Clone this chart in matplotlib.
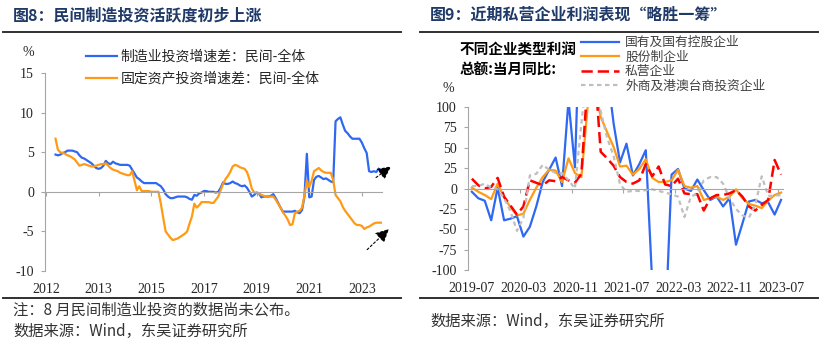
import matplotlib
matplotlib.use('Agg')
import matplotlib.pyplot as plt
from matplotlib.lines import Line2D

plt.rcParams['font.family'] = ['Noto Sans CJK SC', 'DejaVu Sans']
plt.rcParams['axes.unicode_minus'] = False

# ---- 图8 data (monthly, index 0 = first "2012" tick) ----
left_start = 4
mfg_diff = [4.7, 4.6, 4.7, 4.9, 5.0, 5.2, 5.2, 5.2, 5.1, 5.0, 4.6, 4.3, 4.2, 4.0, 3.8, 3.6,
            3.3, 3.0, 2.9, 3.0, 3.3, 3.9, 3.6, 3.5, 3.8, 3.6, 3.5, 3.4, 3.4, 3.4, 3.4, 3.3,
            2.8, 2.3, 1.8, 1.6, 1.3, 1.1, 1.1, 1.1, 1.1, 1.1, 1.1, 0.9, 0.7, 0.3, -0.3, -0.6,
            -0.8, -0.8, -0.7, -0.6, -0.6, -0.6, -0.6, -0.7, -0.9, -1.0, -0.4, -0.5, -0.2, -0.1,
            0.1, 0.1, 0.0, 0.0, 0.0, -0.1, 0.0, 0.5, 1.2, 1.0, 1.0, 1.1, 1.3, 1.1, 1.0, 0.8,
            0.7, 0.8, 0.5, 0.0, -0.6, -0.4, -0.1, -0.2, -0.7, -0.6, -0.6, -0.6, -0.5, -0.3,
            -0.8, -1.4, -2.0, -2.5, -2.5, -2.5, -2.5, -2.5, -2.4, -2.6, -2.7, -2.3, -0.6, 4.8,
            -0.7, -0.6, 1.5, 1.9, 2.0, 1.8, 1.6, 1.7, 1.5, 1.3, 1.2, 8.9, 9.2, 9.4, 8.5, 7.7,
            7.4, 7.0, 6.7, 6.7, 6.7, 6.7, 6.2, 5.5, 4.9, 2.6, 2.5, 2.6, 2.5, 2.9]
fai_diff = [6.7, 5.3, 5.0, 4.9, 4.8, 4.6, 4.5, 4.3, 4.1, 3.7, 3.3, 3.4, 3.5, 3.4, 3.3, 3.2,
            3.2, 3.3, 3.4, 3.5, 3.5, 3.6, 3.3, 3.0, 2.8, 2.7, 2.6, 2.4, 2.3, 2.2, 2.1, 2.1,
            2.6, 1.4, 0.2, 0.7, 0.1, 0.1, 0.1, 0.1, 0.0, 0.0, 0.0, 0.0, -1.5, -3.3, -5.0, -5.4,
            -5.8, -6.1, -6.0, -5.9, -5.7, -5.5, -5.3, -5.0, -4.0, -3.1, -1.5, -2.0, -1.7, -1.3,
            -1.3, -1.3, -1.3, -1.4, -1.4, -1.0, -0.6, 0.2, 1.0, 1.6, 2.0, 2.5, 3.2, 3.4, 3.3,
            3.1, 3.0, 2.9, 2.5, 1.6, 0.4, -0.1, -0.1, -0.2, -0.4, -0.5, -0.6, -0.6, -0.6, -0.6,
            -1.0, -1.5, -2.0, -2.6, -3.0, -3.5, -4.2, -4.1, -2.7, -2.5, -2.4, -2.0, -0.5, 1.4,
            0.6, 1.4, 2.6, 2.8, 3.0, 2.7, 2.5, 2.4, 2.4, 2.4, 1.5, -0.4, -0.8, -1.2, -1.9, -2.4,
            -2.8, -3.2, -3.6, -4.0, -4.2, -4.2, -4.3, -4.7, -4.5, -4.4, -4.2, -4.0, -3.9, -3.9,
            -3.9]
left_tick_pos = [0, 22, 44, 66, 88, 110, 132]
left_tick_labels = ['2012', '2013', '2015', '2017', '2019', '2021', '2023']
left_names = ['制造业投资增速差：民间-全体', '固定资产投资增速差：民间-全体']

# ---- 图9 data (monthly, 2019-07 .. 2023-07) ----
soe = [-4, -12, -15, -39, 1, -39, -37, -34, -59, -47, -22, 8, 23, 38, 3, 108, 26, 270, 300,
       280, 200, 145, 80, 32, 55, 16, 30, 47, -116, -250, -178, 17, 24, 0, -3, 11, -2, -14,
       -10, -22, -12, -69, -43, -16, -14, -18, -17, -32, -14]
joint_stock = [1, -4, -8, -13, 6, -11, -23, -33, -31, -14, 1, 14, 23, 22, 8, 37, 19, 14, 103,
               128, 88, 69, 51, 27, 28, 17, 24, 36, 13, 8, 8, 10, 23, 3, 1, 3, -14, -12, -10,
               -14, -10, -1, -12, -19, -21, -24, -15, -8, -5]
private = [12, 4, 0, 2, 13, -10, -21, -32, -22, 10, 7, 4, 10, 9, 14, 10, 7, 18, 135, 155, 45,
           37, 28, 14, 8, 6, 10, 30, 15, 27, 5, 3, 12, -6, -7, -7, -27, -12, -8, -8, -6, -2,
           -10, -22, -27, -20, -14, 35, 17]
foreign = [3, 3, 6, 1, -1, -12, -28, -52, -36, 16, 18, 29, 23, 19, 19, 10, 0, 80, 150, 140, 95,
           62, 40, 5, -4, -3, -3, -2, -1, -3, -5, -7, -10, -35, -10, -6, 10, 14, 14, 6, -12,
           -25, -33, -36, -20, 15, -9, -9, -8]
right_tick_pos = [0, 8, 16, 24, 32, 40, 48]
right_tick_labels = ['2019-07', '2020-03', '2020-11', '2021-07', '2022-03', '2022-11', '2023-07']
right_names = ['国有及国有控股企业', '股份制企业', '私营企业', '外商及港澳台商投资企业']

W, H = 831, 345
fig = plt.figure(figsize=(W / 100, H / 100), dpi=100)


def fx(px):
    return px / W


def fy(py):
    return 1 - py / H


blue = '#2F68F2'
orange = '#FF9A14'
axis_gray = '#A6A6A6'
text_col = '#262626'
serif = 'Liberation Serif'


def style_axes(ax):
    for s in ['top', 'right']:
        ax.spines[s].set_visible(False)
    ax.spines['left'].set_color(axis_gray)
    ax.spines['bottom'].set_color(axis_gray)
    ax.spines['bottom'].set_position(('data', 0))
    ax.tick_params(axis='y', direction='out', length=3, color=axis_gray, pad=5,
                   labelsize=10, labelcolor=text_col)
    for lab in ax.get_yticklabels():
        lab.set_fontfamily(serif)


# ---------------- left chart ----------------
ax1 = fig.add_axes([fx(45), fy(271), fx(382) - fx(45), fy(73) - fy(271)])
x_mfg = range(left_start, left_start + len(mfg_diff))
x_fai = range(left_start, left_start + len(fai_diff))
l1, = ax1.plot(x_mfg, mfg_diff, color=blue, lw=1.6)
l2, = ax1.plot(x_fai, fai_diff, color=orange, lw=1.6)
ax1.set_xlim(-0.4, 140.4)
ax1.set_ylim(-10, 15)
ax1.set_yticks([-10, -5, 0, 5, 10, 15])
ax1.set_xticks(left_tick_pos)
ax1.set_xticklabels(left_tick_labels)
style_axes(ax1)
ax1.tick_params(axis='x', direction='out', length=3, color=axis_gray, pad=63,
                labelsize=10, labelcolor=text_col)
for lab in ax1.get_xticklabels():
    lab.set_fontfamily(serif)

arrow = dict(arrowstyle='-|>,head_length=0.8,head_width=0.4', color='black', lw=0.8,
             linestyle=(0, (2, 2)), shrinkA=0, shrinkB=0)
ax1.annotate('', xy=(144.2, 3.2), xytext=(137.9, 1.8), arrowprops=arrow,
             annotation_clip=False)
ax1.annotate('', xy=(143.3, -4.7), xytext=(134.2, -7.3), arrowprops=arrow,
             annotation_clip=False)

fig.legend([l1, l2], left_names, loc='upper left', bbox_to_anchor=(fx(86), fy(50)),
           frameon=False, fontsize=10, handlelength=2.2, handletextpad=0.3,
           labelspacing=0.55, borderpad=0, borderaxespad=0, labelcolor=text_col)
fig.text(fx(28), fy(53), '%', fontsize=10, ha='center', va='center', color=text_col,
         family=serif)

# ---------------- right chart ----------------
ax2 = fig.add_axes([fx(468), fy(270), fx(783) - fx(468), fy(107) - fy(270)])
xi = range(len(soe))
r1, = ax2.plot(xi, soe, color=blue, lw=1.6)
r2, = ax2.plot(xi, joint_stock, color=orange, lw=1.6)
r3, = ax2.plot(xi, private, color='#FF0000', lw=1.8, linestyle=(0, (4.5, 2)))
r4, = ax2.plot(xi, foreign, color='#BFBFBF', lw=1.6, linestyle=(0, (2, 1.6)))
ax2.set_xlim(-0.6, 48.3)
ax2.set_ylim(-100, 100)
ax2.set_yticks(range(-100, 101, 25))
style_axes(ax2)
ax2.set_xticks([p - 0.5 for p in right_tick_pos[1:]])
ax2.set_xticklabels([])
ax2.set_xticks(right_tick_pos, minor=True)
ax2.set_xticklabels(right_tick_labels, minor=True)
ax2.tick_params(axis='x', which='major', direction='out', length=3, color=axis_gray)
ax2.tick_params(axis='x', which='minor', length=0, pad=67, labelsize=10,
                labelcolor=text_col)
for lab in ax2.get_xticklabels(minor=True):
    lab.set_fontfamily(serif)

fig.legend([r1, r2, r3, r4], right_names, loc='upper left',
           bbox_to_anchor=(fx(581), fy(36)), frameon=False, fontsize=9.2,
           handlelength=3.0, handletextpad=0.45, labelspacing=0.12, borderpad=0,
           borderaxespad=0, labelcolor='#404040')
fig.text(fx(460), fy(59), '不同企业类型利润\n总额:当月同比:', fontsize=10.5,
         fontweight='bold', ha='left', va='center', color='black', linespacing=1.35)
fig.text(fx(448), fy(88), '%', fontsize=10, ha='center', va='center', color=text_col,
         family=serif)

# ---------------- titles, rules, notes ----------------
title_col = '#1F3A68'
fig.text(fx(13), fy(15), '图8：民间制造投资活跃度初步上涨', fontsize=11.5, fontweight='bold',
         color=title_col, ha='left', va='center')
fig.text(fx(430), fy(15), '图9：近期私营企业利润表现“略胜一筹”', fontsize=11.5,
         fontweight='bold', color=title_col, ha='left', va='center')
for x0, x1 in [(3, 401), (420, 818)]:
    for yy in [32, 298]:
        fig.add_artist(Line2D([fx(x0), fx(x1)], [fy(yy), fy(yy)], color='#303030',
                              lw=1.4, transform=fig.transFigure))

fig.text(fx(13), fy(310), '注：8 月民间制造业投资的数据尚未公布。', fontsize=11,
         color='#333333', ha='left', va='center')
fig.text(fx(13), fy(331), '数据来源：Wind，东吴证券研究所', fontsize=11,
         color='#333333', ha='left', va='center')
fig.text(fx(430), fy(321), '数据来源：Wind，东吴证券研究所', fontsize=11,
         color='#333333', ha='left', va='center')

fig.savefig('out.png', dpi=100)
